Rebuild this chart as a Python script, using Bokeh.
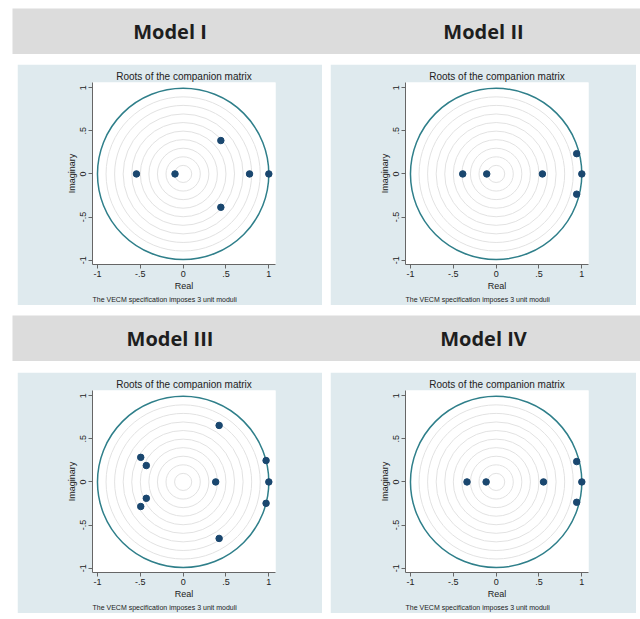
from bokeh.plotting import figure
from bokeh.layouts import column, row
from bokeh.models import Range1d, FixedTicker, Title
from bokeh.core.properties import value
from bokeh.embed import file_html
from bokeh.resources import INLINE

# ---------------- data ----------------
model_names = ["Model I", "Model II", "Model III", "Model IV"]

model1_re = [-0.545, -0.095, 0.44, 0.44, 0.775, 1.0]
model1_im = [0.0, 0.0, 0.387, -0.387, 0.0, 0.0]

model2_re = [-0.39, -0.11, 0.54, 0.94, 0.94, 1.0]
model2_im = [0.0, 0.0, 0.0, 0.235, -0.235, 0.0]

model3_re = [0.42, 0.42, -0.495, -0.495, -0.43, -0.43, 0.38, 0.968, 0.968, 1.0]
model3_im = [0.655, -0.655, 0.285, -0.285, 0.19, -0.19, 0.0, 0.248, -0.248, 0.0]

model4_re = [-0.34, -0.117, 0.553, 0.94, 0.94, 1.0]
model4_im = [0.0, 0.0, 0.0, 0.236, -0.236, 0.0]

tick_values = [-1, -0.5, 0, 0.5, 1]
tick_labels = ["-1", "-.5", "0", ".5", "1"]
grid_radii = [0.1, 0.2, 0.3, 0.4, 0.5, 0.6, 0.7, 0.8, 0.9]

plot_title = "Roots of the companion matrix"
x_label = "Real"
y_label = "Imaginary"
note_text = "The VECM specification imposes 3 unit moduli"

# ---------------- style ----------------
PANEL_BG = "#dfeaee"
BAND_BG = "#dcdcdc"
POINT_C = "#1a476f"
CIRCLE_C = "#2f7f8a"
RING_C = "#e2e2e2"
AXIS_C = "#666666"
TEXT_C = "#222222"
FONT = "Liberation Sans"

HEADER_W = 628
HEADER_H = 46
PANEL_H = 241
PANEL_W = [305, 306]


def make_header(names, margin):
    p = figure(width=HEADER_W, height=HEADER_H, x_range=Range1d(0, HEADER_W),
               y_range=Range1d(0, HEADER_H), output_backend="svg",
               toolbar_location=None, min_border=0, margin=margin)
    p.axis.visible = False
    p.grid.visible = False
    p.outline_line_color = None
    p.background_fill_color = BAND_BG
    p.border_fill_color = BAND_BG
    # centers of the two panels below, in header coordinates
    c1 = 5 + PANEL_W[0] / 2
    c2 = 5 + PANEL_W[0] + 8 + PANEL_W[1] / 2
    p.text(x=[c1, c2], y=[HEADER_H / 2, HEADER_H / 2], text=names,
           text_font=value("Open Sans"), text_font_style="bold",
           text_font_size="20px", text_align="center", text_baseline="middle",
           text_color="#1e1e1e")
    return p


def make_panel(re, im, width, margin):
    p = figure(width=width, height=PANEL_H,
               x_range=Range1d(-1.058, 1.078), y_range=Range1d(-1.05, 1.06),
               output_backend="svg", toolbar_location=None,
               min_border_left=75, min_border_right=width - 258,
               min_border_top=18, min_border_bottom=41, margin=margin)
    p.background_fill_color = "white"
    p.border_fill_color = PANEL_BG
    p.outline_line_color = None
    p.grid.visible = False

    p.title.text = plot_title
    p.title.align = "center"
    p.title.text_font = FONT
    p.title.text_font_style = "normal"
    p.title.text_font_size = "10px"
    p.title.text_color = TEXT_C
    p.title.standoff = 2

    for ax in (p.xaxis[0], p.yaxis[0]):
        ax.ticker = FixedTicker(ticks=tick_values)
        ax.major_label_overrides = dict(zip(tick_values, tick_labels))
        ax.minor_tick_line_color = None
        ax.axis_line_color = AXIS_C
        ax.major_tick_line_color = AXIS_C
        ax.major_tick_out = 4
        ax.major_tick_in = 0
        ax.major_label_text_font = FONT
        ax.major_label_text_font_size = "9px"
        ax.major_label_text_color = TEXT_C
        ax.major_label_standoff = 2
        ax.axis_label_text_font = FONT
        ax.axis_label_text_font_size = "9px"
        ax.axis_label_text_font_style = "normal"
        ax.axis_label_text_color = TEXT_C
        ax.axis_label_standoff = 1
    p.xaxis.axis_label = x_label
    p.yaxis.axis_label = y_label
    p.yaxis.major_label_orientation = "vertical"

    p.circle(x=[0] * len(grid_radii), y=[0] * len(grid_radii), radius=grid_radii,
             fill_color=None, line_color=RING_C, line_width=1)
    p.circle(x=[0], y=[0], radius=[1.0], fill_color=None,
             line_color=CIRCLE_C, line_width=1.5)
    p.scatter(x=re, y=im, size=6.5, fill_color=POINT_C, line_color=POINT_C)

    note = Title(text=note_text, align="left", text_font=FONT,
                 text_font_size="7px", text_font_style="normal",
                 text_color=TEXT_C, standoff=1)
    p.add_layout(note, "below")
    return p


h1 = make_header(model_names[0:2], (8, 0, 0, 12))
p1 = make_panel(model1_re, model1_im, PANEL_W[0], (10, 0, 0, 17))
p2 = make_panel(model2_re, model2_im, PANEL_W[1], (10, 0, 0, 8))
h2 = make_header(model_names[2:4], (10, 0, 0, 12))
p3 = make_panel(model3_re, model3_im, PANEL_W[0], (11, 0, 0, 17))
p4 = make_panel(model4_re, model4_im, PANEL_W[1], (11, 0, 0, 8))

layout = column(h1, row(p1, p2, spacing=0), h2, row(p3, p4, spacing=0), spacing=0)

open("out.html", "w").write(file_html(layout, INLINE))
